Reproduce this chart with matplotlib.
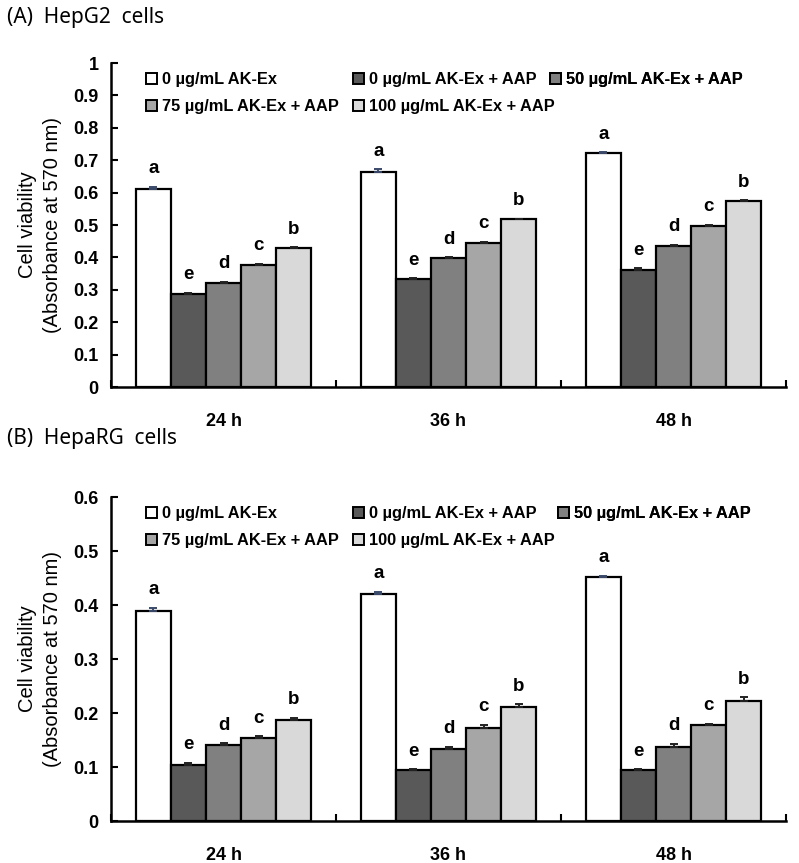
import matplotlib
matplotlib.use('Agg')
import matplotlib.pyplot as plt
from matplotlib.patches import Patch
import numpy as np

# data
times = ['24 h', '36 h', '48 h']
groups = ['0 µg/mL AK-Ex', '0 µg/mL AK-Ex + AAP', '50 µg/mL AK-Ex + AAP',
          '75 µg/mL AK-Ex + AAP', '100 µg/mL AK-Ex + AAP']
letters = ['a', 'e', 'd', 'c', 'b']

hepg2 = [[0.610, 0.665, 0.722],
         [0.287, 0.332, 0.362],
         [0.322, 0.398, 0.436],
         [0.377, 0.445, 0.497],
         [0.428, 0.517, 0.573]]
hepg2_err = [[0.008, 0.007, 0.003],
             [0.003, 0.004, 0.004],
             [0.003, 0.003, 0.003],
             [0.004, 0.003, 0.003],
             [0.003, 0.003, 0.003]]

heparg = [[0.388, 0.421, 0.452],
          [0.104, 0.094, 0.094],
          [0.141, 0.134, 0.137],
          [0.154, 0.172, 0.177],
          [0.187, 0.212, 0.222]]
heparg_err = [[0.007, 0.004, 0.002],
              [0.004, 0.002, 0.002],
              [0.003, 0.003, 0.006],
              [0.003, 0.006, 0.003],
              [0.004, 0.004, 0.007]]

colors = ['#ffffff', '#595959', '#808080', '#a6a6a6', '#d9d9d9']
ecolors = ['#3a4a6a', '#222222', '#222222', '#222222', '#222222']

W, H = 799, 863
fig = plt.figure(figsize=(W / 100, H / 100), dpi=100)
bold = dict(family='Liberation Sans', weight='bold')


def panel(ax, vals, errs, ymax, ystep, leg_y, col_x):
    x = np.arange(len(times)) + 0.5
    bw = 0.156
    for i in range(len(groups)):
        xs = x + (i - 2) * bw
        ax.bar(xs, vals[i], bw, color=colors[i], edgecolor='black', linewidth=1.6, zorder=2)
        ax.errorbar(xs, vals[i], yerr=[np.zeros(3), errs[i]], fmt='none', ecolor=ecolors[i],
                    elinewidth=1.4, capsize=3, capthick=1.4, zorder=3)
        for xx, v, e in zip(xs, vals[i], errs[i]):
            ax.annotate(letters[i], (xx, v + e), xytext=(0, 13), textcoords='offset points',
                        ha='center', va='center', fontsize=13.5, **bold)
    ax.set_xlim(0, 3)
    ax.set_ylim(0, ymax)
    ax.set_xticks([0, 1, 2, 3])
    ax.set_xticklabels([])
    ax.set_xticks(x, minor=True)
    ax.set_xticklabels(times, minor=True, fontsize=13, **bold)
    ax.tick_params(axis='x', which='major', direction='in', length=5, width=1.5)
    ax.tick_params(axis='x', which='minor', length=0, pad=19)
    yt = np.round(np.arange(0, ymax + 1e-9, ystep), 2)
    ax.set_yticks(yt)
    ax.set_yticklabels([('%g' % t) for t in yt], fontsize=13, **bold)
    ax.tick_params(axis='y', direction='in', length=5, width=1.5, pad=9)
    for s in ['top', 'right']:
        ax.spines[s].set_visible(False)
    for s in ['left', 'bottom']:
        ax.spines[s].set_linewidth(1.8)
    # legend: one column per legend so the columns sit where they do in the figure
    cols = [[0, 3], [1, 4], [2]]
    for cx, idx in zip(col_x, cols):
        hs = [Patch(facecolor=colors[k], edgecolor='black', linewidth=1.4) for k in idx]
        lg = ax.legend(hs, [groups[k] for k in idx], loc='upper left',
                       bbox_to_anchor=(cx / W, 1 - leg_y / H), bbox_transform=fig.transFigure,
                       frameon=False, borderpad=0, borderaxespad=0, handlelength=0.65,
                       handleheight=0.65, handletextpad=0.3, labelspacing=0.75,
                       prop=dict(family='Liberation Sans', weight='bold', size=11.8))
        ax.add_artist(lg)
    ax.text(-0.124, 0.5, 'Cell viability', transform=ax.transAxes, rotation=90,
            ha='center', va='center', fontsize=14.5, family='Liberation Sans')
    ax.text(-0.086, 0.5, '(Absorbance at 570 nm)', transform=ax.transAxes, rotation=90,
            ha='center', va='center', fontsize=14.5, family='Liberation Sans')


ax1 = fig.add_axes([111 / W, 1 - 387 / H, 675 / W, 324 / H])
ax2 = fig.add_axes([111 / W, 1 - 821 / H, 675 / W, 324 / H])
panel(ax1, hepg2, hepg2_err, 1.0, 0.1, 72, [146, 353, 550])
panel(ax2, heparg, heparg_err, 0.6, 0.1, 506, [146, 353, 558])

fig.text(7 / W, 1 - 18 / H, '(A)  HepG2  cells', fontsize=15, family='Noto Sans', va='center')
fig.text(7 / W, 1 - 438 / H, '(B)  HepaRG  cells', fontsize=15, family='Noto Sans', va='center')

fig.savefig('out.png', dpi=100)
